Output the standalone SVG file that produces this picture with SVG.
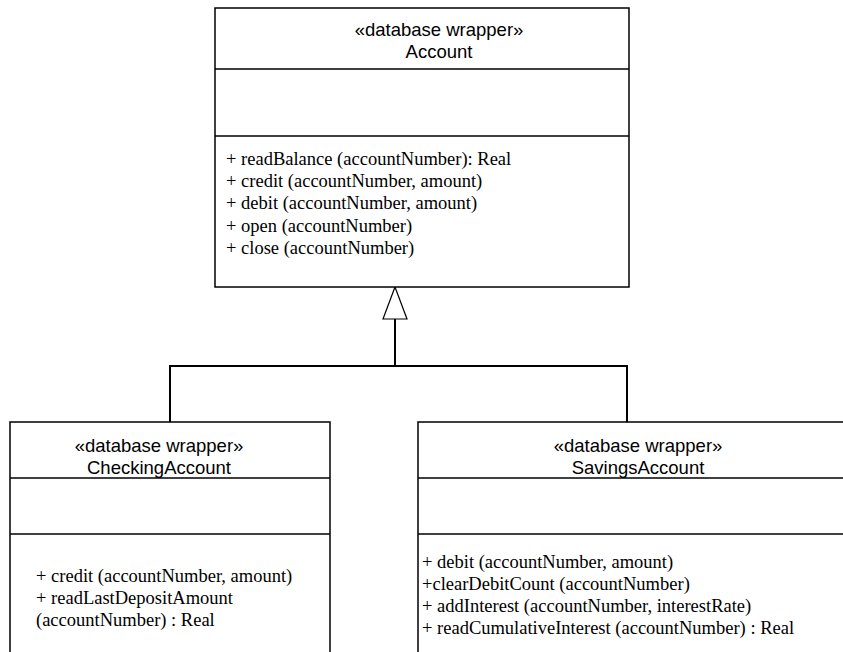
<svg xmlns="http://www.w3.org/2000/svg" width="843" height="652" viewBox="0 0 843 652">
  <style>
    .box { fill: #ffffff; stroke: #000000; stroke-width: 1.5; }
    .div { stroke: #000000; stroke-width: 1.5; fill: none; }
    .head { font-family: "Liberation Sans", Arial, sans-serif; font-size: 18.5px; fill: #000000; text-anchor: middle; }
    .op { font-family: "Liberation Serif", "Times New Roman", "DejaVu Serif", serif; font-size: 18.5px; fill: #000000; }
    .edge { stroke: #000000; stroke-width: 2; fill: none; }
    .gen { fill: #ffffff; stroke: #000000; stroke-width: 1.2; }
  </style>
  <rect width="843" height="652" fill="#ffffff"/>

  <!-- generalization: subclasses to Account -->
  <g id="connectors">
    <polyline class="edge" points="170,422 170,366 627,366 627,422"/>
    <line class="edge" x1="395" y1="366" x2="395" y2="319"/>
    <polygon class="gen" points="395,287 407,319 383,319"/>
  </g>

  <g id="account">
    <rect class="box" x="215" y="8" width="414" height="279"/>
    <line class="div" x1="215" y1="69" x2="629" y2="69"/>
    <line class="div" x1="215" y1="136" x2="629" y2="136"/>
    <text class="head" x="439" y="36">«database wrapper»</text>
    <text class="head" x="439" y="58">Account</text>
    <g class="op" font-family="'Liberation Serif', 'Times New Roman', serif">
      <text x="226" y="165">+ readBalance (accountNumber): Real</text>
      <text x="226" y="187">+ credit (accountNumber, amount)</text>
      <text x="226" y="209">+ debit (accountNumber, amount)</text>
      <text x="226" y="232">+ open (accountNumber)</text>
      <text x="226" y="254">+ close (accountNumber)</text>
    </g>
  </g>

  <g id="checking-account">
    <rect class="box" x="10" y="422" width="320" height="240"/>
    <line class="div" x1="10" y1="478" x2="330" y2="478"/>
    <line class="div" x1="10" y1="534" x2="330" y2="534"/>
    <text class="head" x="159" y="452">«database wrapper»</text>
    <text class="head" x="159" y="474">CheckingAccount</text>
    <g class="op" font-family="'Liberation Serif', 'Times New Roman', serif">
      <text x="36" y="582">+ credit (accountNumber, amount)</text>
      <text x="36" y="604">+ readLastDepositAmount</text>
      <text x="36" y="626">(accountNumber) : Real</text>
    </g>
  </g>

  <g id="savings-account">
    <rect class="box" x="418" y="422" width="440" height="240"/>
    <line class="div" x1="418" y1="478" x2="858" y2="478"/>
    <line class="div" x1="418" y1="534" x2="858" y2="534"/>
    <text class="head" x="638" y="452">«database wrapper»</text>
    <text class="head" x="638" y="474">SavingsAccount</text>
    <g class="op" font-family="'Liberation Serif', 'Times New Roman', serif">
      <text x="422" y="568">+ debit (accountNumber, amount)</text>
      <text x="422" y="590">+clearDebitCount (accountNumber)</text>
      <text x="422" y="612">+ addInterest (accountNumber, interestRate)</text>
      <text x="422" y="634">+ readCumulativeInterest (accountNumber) : Real</text>
    </g>
  </g>
</svg>
